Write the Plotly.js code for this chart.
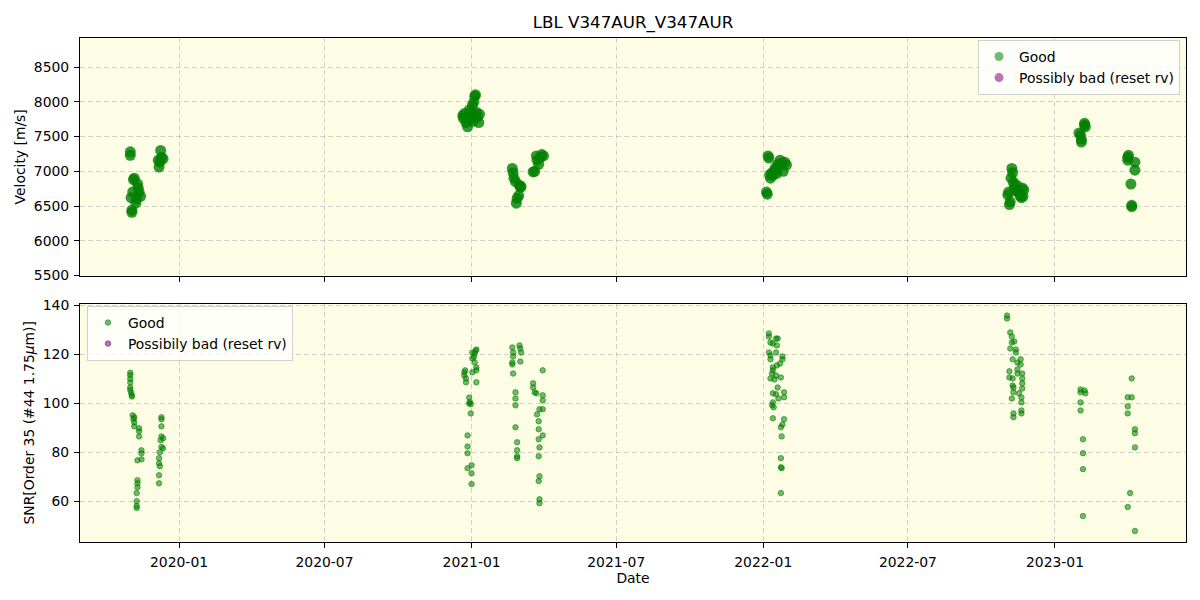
<!DOCTYPE html>
<html>
<head>
<meta charset="utf-8">
<script src="https://cdn.plot.ly/plotly-3.0.1.min.js"></script>
<style>html,body{margin:0;padding:0;background:#fff;} #chart{width:1200px;height:600px;}</style>
</head>
<body>
<div id="chart"></div>
<script>
// ---- Velocity panel (Good) ----
const velDates = [
  '2019-11-01','2019-11-01','2019-11-02','2019-11-03','2019-11-03','2019-11-04','2019-11-05','2019-11-06','2019-11-08','2019-11-09','2019-11-10','2019-11-11','2019-11-12','2019-11-14',
  '2019-12-06','2019-12-07','2019-12-08','2019-12-09','2019-12-10','2019-12-12',
  '2020-12-21','2020-12-22','2020-12-23','2020-12-25','2020-12-27','2020-12-28','2020-12-29','2020-12-31','2021-01-01','2021-01-02','2021-01-03','2021-01-04','2021-01-05','2021-01-06','2021-01-07','2021-01-08','2021-01-10','2021-01-11',
  '2021-02-21','2021-02-22','2021-02-23','2021-02-25','2021-02-26','2021-02-27','2021-03-01','2021-03-02','2021-03-03','2021-03-04',
  '2021-03-19','2021-03-21','2021-03-23','2021-03-24','2021-03-26','2021-03-28','2021-03-30','2021-04-01',
  '2022-01-05','2022-01-06','2022-01-07','2022-01-08','2022-01-09','2022-01-10','2022-01-12','2022-01-13','2022-01-15','2022-01-16','2022-01-18','2022-01-19','2022-01-20','2022-01-22','2022-01-24','2022-01-26','2022-01-28','2022-01-30',
  '2022-11-03','2022-11-04','2022-11-05','2022-11-06','2022-11-07','2022-11-08','2022-11-09','2022-11-10','2022-11-11','2022-11-13','2022-11-14','2022-11-16','2022-11-18','2022-11-20','2022-11-21','2022-11-22','2022-11-23',
  '2023-01-31','2023-02-02','2023-02-03','2023-02-03','2023-02-07','2023-02-07','2023-02-08',
  '2023-04-02','2023-04-02','2023-04-03','2023-04-11','2023-04-11','2023-04-06','2023-04-07','2023-04-07'
];
const velValues = [
  7280,7230,6620,6410,6440,6700,6880,6900,6540,6600,6820,6760,6700,6640,
  7160,7060,7130,7300,7200,7180,
  7800,7760,7830,7700,7640,7780,7880,7750,7850,7950,7720,8000,8080,8100,7850,7780,7700,7820,
  7040,6980,6900,6850,6540,6610,6650,6800,6770,6780,
  6990,7000,7220,7160,7100,7200,7240,7220,
  6700,6670,7220,7190,6950,6900,6980,6940,7000,7050,6970,7100,7060,7160,7120,7000,7130,7090,
  6660,6700,6520,6560,6900,7040,6980,6840,6760,6720,6800,6700,6650,6620,6760,6640,6730,
  7550,7520,7420,7460,7664,7690,7640,
  7200,7160,7230,7130,7015,6815,6490,6510
];

// ---- SNR panel (Good) ----
const snrDates = [
  '2019-11-01','2019-11-01','2019-11-01','2019-11-01','2019-11-01','2019-11-01','2019-11-02','2019-11-03','2019-11-03',
  '2019-11-04','2019-11-06','2019-11-05','2019-11-06','2019-11-06','2019-11-12','2019-11-12','2019-11-12','2019-11-15','2019-11-15','2019-11-15','2019-11-10','2019-11-10','2019-11-10','2019-11-10','2019-11-09','2019-11-09','2019-11-09','2019-11-09',
  '2019-12-10','2019-12-10','2019-12-10','2019-12-10','2019-12-12','2019-12-09','2019-12-10','2019-12-12','2019-12-08','2019-12-07','2019-12-07','2019-12-08','2019-12-07','2019-12-07',
  '2021-01-02','2021-01-07','2021-01-05','2021-01-02','2021-01-05','2021-01-07','2021-01-07','2021-01-02','2020-12-23','2020-12-23','2020-12-25','2020-12-25','2021-01-07','2020-12-29','2020-12-29','2020-12-31','2020-12-31','2020-12-27','2020-12-27','2020-12-27','2020-12-27','2021-01-01','2021-01-01','2021-01-01','2021-01-06','2021-01-04','2020-12-24','2020-12-30',
  '2021-02-21','2021-02-22','2021-02-22','2021-02-21','2021-02-21','2021-02-22','2021-03-02','2021-03-03','2021-03-04','2021-03-03','2021-02-25','2021-02-25','2021-02-25','2021-02-25','2021-02-27','2021-02-27','2021-02-27','2021-02-27',
  '2021-03-19','2021-03-19','2021-03-21','2021-03-23','2021-03-31','2021-03-31','2021-03-27','2021-03-31','2021-03-24','2021-03-26','2021-03-26','2021-03-31','2021-03-26','2021-03-27','2021-03-26','2021-03-31','2021-03-27','2021-03-26','2021-03-27','2021-03-27',
  '2022-01-08','2022-01-08','2022-01-10','2022-01-13','2022-01-17','2022-01-19','2022-01-18','2022-01-08','2022-01-10','2022-01-10','2022-01-17','2022-01-25','2022-01-25','2022-01-22','2022-01-18','2022-01-13','2022-01-13','2022-01-12','2022-01-17','2022-01-10','2022-01-15','2022-01-23','2022-01-19','2022-01-13','2022-01-17','2022-01-27','2022-01-27','2022-01-20','2022-01-13','2022-01-12','2022-01-14','2022-01-13','2022-01-27','2022-01-25','2022-01-23','2022-01-24','2022-01-23','2022-01-23','2022-01-24','2022-01-23',
  '2022-11-02','2022-11-02','2022-11-06','2022-11-08','2022-11-08','2022-11-11','2022-11-06','2022-11-13','2022-11-13','2022-11-09','2022-11-15','2022-11-19','2022-11-19','2022-11-05','2022-11-05','2022-11-09','2022-11-15','2022-11-15','2022-11-21','2022-11-21','2022-11-21','2022-11-21','2022-11-09','2022-11-10','2022-11-10','2022-11-17','2022-11-20','2022-11-08','2022-11-20','2022-11-10','2022-11-10','2022-11-20','2022-11-20',
  '2023-02-02','2023-02-02','2023-02-07','2023-02-08','2023-02-02','2023-02-02','2023-02-05','2023-02-05','2023-02-05','2023-02-05',
  '2023-04-07','2023-04-02','2023-04-07','2023-04-02','2023-04-02','2023-04-11','2023-04-11','2023-04-11','2023-04-05','2023-04-02','2023-04-11'
];
const snrValues = [
  112.5,111.5,110.0,108.5,106.5,105.5,104.3,103.3,102.8,
  95.1,94.3,93.5,92.2,90.6,89.8,88.6,86.5,80.8,79.6,77.1,76.7,68.6,67.3,65.7,63.3,60.0,58.0,57.2,
  94.3,93.5,90.6,86.5,85.7,84.9,82.2,81.6,80.0,77.6,75.5,74.3,70.6,67.3,
  120.8,122.0,120.4,118.4,116.7,114.7,113.5,112.7,112.7,111.4,110.2,108.6,108.6,102.4,100.0,99.6,95.9,86.9,82.4,79.6,73.5,74.7,71.4,67.0,121.5,119.0,113.5,100.5,
  122.9,120.8,119.2,116.7,115.9,112.2,123.7,122.4,120.8,117.1,104.5,102.0,99.2,90.2,84.1,80.8,78.4,77.6,
  108.2,106.5,104.5,104.1,103.3,101.2,97.6,97.6,95.5,92.7,89.4,86.9,85.3,82.0,78.4,113.5,70.2,68.2,60.8,59.2,
  128.6,127.3,124.9,124.5,126.5,126.5,123.7,120.8,119.6,118.0,120.8,119.2,118.0,116.3,115.5,114.7,113.5,112.2,111.4,110.2,109.8,110.6,106.5,104.1,103.7,104.5,102.5,102.0,100.4,99.2,98.4,93.9,93.5,91.4,90.2,86.5,77.6,73.9,73.5,63.3,
  135.9,134.7,129.0,127.3,124.9,125.3,122.4,122.0,120.8,118.0,116.7,118.0,115.9,113.1,110.6,110.2,113.9,112.2,112.2,110.2,108.2,106.1,107.3,106.5,104.5,104.1,102.4,102.0,100.4,95.9,94.3,97.1,95.9,
  105.7,104.5,105.3,104.1,100.4,97.1,85.3,79.6,73.1,53.9,
  110.2,102.5,102.5,98.8,95.9,89.4,87.8,82.0,63.3,57.6,47.8
];

// ---- labels ----
const chartTitle = 'LBL V347AUR_V347AUR';
const seriesNames = ['Good', 'Possibly bad (reset rv)', 'Possibily bad (reset rv)'];
const xTickVals = ['2020-01-01','2020-07-01','2021-01-01','2021-07-01','2022-01-01','2022-07-01','2023-01-01'];
const xTickText = ['2020-01','2020-07','2021-01','2021-07','2022-01','2022-07','2023-01'];
const velTicks = [5500,6000,6500,7000,7500,8000,8500];
const snrTicks = [60,80,100,120,140];

const FONT = 'DejaVu Sans, sans-serif';
const green = 'rgba(0,128,0,0.55)';
const purple = 'rgba(128,0,128,0.55)';

const traces = [
  // velocity data (legend shown by the small legend-only entries below)
  {x: velDates, y: velValues, type: 'scatter', mode: 'markers', name: seriesNames[0],
   xaxis: 'x', yaxis: 'y', showlegend: false,
   marker: {color: 'rgba(0,128,0,0.8)', size: 11, line: {width: 0}}},
  {x: [null], y: [null], type: 'scatter', mode: 'markers', name: seriesNames[0],
   xaxis: 'x', yaxis: 'y', legend: 'legend', showlegend: true,
   marker: {color: green, size: 9, symbol: 'circle', line: {width: 0}}},
  {x: [null], y: [null], type: 'scatter', mode: 'markers', name: seriesNames[1],
   xaxis: 'x', yaxis: 'y', legend: 'legend', showlegend: true,
   marker: {color: purple, size: 9, line: {width: 0}}},
  {x: snrDates, y: snrValues, type: 'scatter', mode: 'markers', name: seriesNames[0],
   xaxis: 'x2', yaxis: 'y2', legend: 'legend2', showlegend: true,
   marker: {color: green, size: 5.5, line: {width: 1, color: green}}},
  {x: [null], y: [null], type: 'scatter', mode: 'markers', name: seriesNames[2],
   xaxis: 'x2', yaxis: 'y2', legend: 'legend2', showlegend: true,
   marker: {color: purple, size: 5.5, line: {width: 1, color: purple}}}
];

const xRange = ['2019-08-30 02:00', '2023-06-13 22:00'];
const gridColor = 'rgba(176,176,176,0.55)';
const common = {
  showline: true, mirror: true, linecolor: '#000', linewidth: 1,
  ticks: 'outside', ticklen: 5, tickwidth: 1, tickcolor: '#000',
  showgrid: true, gridcolor: gridColor, griddash: '5px,3px', gridwidth: 1,
  zeroline: false, tickfont: {family: FONT, size: 13.9, color: '#000'},
  ticklabelstandoff: 2
};

const layout = {
  width: 1200, height: 600,
  paper_bgcolor: '#ffffff', plot_bgcolor: 'rgb(253,252,228)',
  margin: {l: 80, r: 14, t: 38, b: 58},
  font: {family: FONT, size: 13.9, color: '#000'},
  title: {text: chartTitle, font: {family: FONT, size: 16.7, color: '#000'},
          x: 0.5, xref: 'paper', y: 1 - 22/600, yref: 'container', yanchor: 'middle'},
  showlegend: true,
  xaxis: Object.assign({}, common, {domain: [0, 1], anchor: 'y', type: 'date', range: xRange,
    tickvals: xTickVals, ticktext: xTickText, showticklabels: false, matches: 'x2'}),
  yaxis: Object.assign({}, common, {domain: [0.5284, 1], anchor: 'x', range: [5497, 8918],
    tickvals: velTicks,
    title: {text: 'Velocity [m/s]', font: {family: FONT, size: 13.9}, standoff: 4}}),
  xaxis2: Object.assign({}, common, {domain: [0, 1], anchor: 'y2', type: 'date', range: xRange,
    tickvals: xTickVals, ticktext: xTickText,
    title: {text: 'Date', font: {family: FONT, size: 13.9}, standoff: 2}}),
  yaxis2: Object.assign({}, common, {domain: [0, 0.473], anchor: 'x2', range: [43.3, 140.8],
    tickvals: snrTicks,
    title: {text: 'SNR[Order 35 (#44 1.75<i>μ</i>m)]', font: {family: FONT, size: 13.9}, standoff: 4}}),
  legend: {x: 0.9946, xanchor: 'right', y: 0.996, yanchor: 'top',
    bgcolor: 'rgba(255,255,255,0.8)', bordercolor: '#d0d0d0', borderwidth: 1,
    font: {family: FONT, size: 13.9, color: '#000'}},
  legend2: {x: 0.0063, xanchor: 'left', y: 0.4683, yanchor: 'top',
    bgcolor: 'rgba(255,255,255,0.8)', bordercolor: '#d0d0d0', borderwidth: 1,
    font: {family: FONT, size: 13.9, color: '#000'}}
};

Plotly.newPlot('chart', traces, layout, {displayModeBar: false, staticPlot: true});
</script>
</body>
</html>
